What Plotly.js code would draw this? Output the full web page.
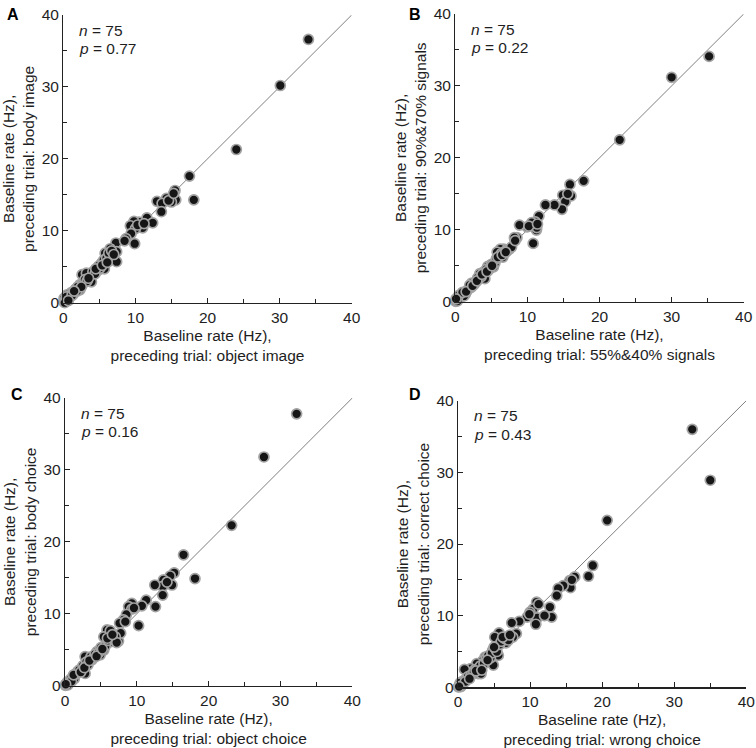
<!DOCTYPE html>
<html>
<head>
<meta charset="utf-8">
<script src="https://cdn.plot.ly/plotly-3.0.1.min.js"></script>
<style>html,body{margin:0;padding:0;background:#fff;}#chart{width:756px;height:748px;}</style>
</head>
<body>
<div id="chart"></div>
<script>
// Panel A: preceding trial object image (x) vs body image (y)
const aX = [34.0,30.1,24.0,17.5,18.1,15.5,15.6,15.0,14.3,13.0,13.7,13.6,11.6,12.4,11.0,10.5,9.8,9.3,10.0,9.4,8.7,9.9,7.3,7.4,7.4,6.5,5.8,6.25,5.3,5.7,4.8,3.6,2.6,3.9,2.3,2.3,3.2,1.1,0.5,0.1,0.1,
  0.3,0.6,0.8,1.4,1.7,2.0,2.7,3.0,3.3,4.1,4.4,4.9,5.1,5.6,6.0,6.3,6.7,7.0,0.2,0.4,1.2,1.9,2.5,3.5,4.5,5.4,6.1,8.5,10.3,11.2,14.6,15.3,0.7,1.5];
const aY = [36.6,30.2,21.3,17.6,14.3,15.6,14.3,14.0,14.5,14.1,13.8,12.65,11.8,11.1,10.4,11.2,11.3,10.7,10.3,9.6,8.9,8.2,8.3,7.1,5.7,7.5,6.9,6.4,5.5,4.7,4.5,3.7,3.9,2.9,2.5,1.8,4.1,1.4,1.1,0.6,0.1,
  0.3,0.5,0.9,1.2,1.9,2.2,2.6,3.2,3.0,4.3,4.0,5.1,4.8,5.9,6.2,6.9,7.2,6.7,0.0,0.8,1.0,1.6,2.2,3.4,4.7,5.2,5.6,8.6,10.8,11.0,14.2,15.2,0.3,1.6];

// Panel B: 55%&40% signals (x) vs 90%&70% signals (y)
const bX = [35.2,30.0,22.8,17.8,15.9,16.05,14.9,15.25,14.8,13.75,12.5,11.6,11.1,11.25,10.6,9.95,8.9,10.8,8.55,8.2,7.5,6.7,6.25,6.6,6.0,5.3,4.5,4.1,3.4,2.3,2.2,1.4,0.45,0.05,11.3,15.6,5.8,4.6,
  0.2,0.7,0.9,1.2,1.7,2.0,2.6,2.9,3.1,3.6,3.9,4.3,4.8,5.0,5.5,5.7,6.2,6.4,6.9,7.2,7.8,0.3,0.5,1.0,1.5,2.4,3.0,3.7,4.4,5.1,5.9,6.5,7.0,8.3,10.2,11.4,0.1];
const bY = [34.1,31.2,22.5,16.8,16.3,14.7,14.8,13.9,12.85,13.45,13.45,11.9,11.1,9.95,11.0,10.4,10.65,8.1,8.9,8.9,7.3,7.3,7.3,6.2,6.8,4.85,4.9,3.2,3.9,2.6,2.0,1.05,0.45,0.05,10.3,15.0,6.9,4.4,
  0.3,0.6,1.1,0.8,1.6,2.3,2.4,2.8,3.3,3.5,4.1,4.5,4.6,5.2,5.4,6.0,6.4,6.7,7.0,7.1,7.6,0.1,0.9,1.3,1.4,2.2,2.9,3.8,4.2,5.0,6.2,6.5,6.9,8.5,10.5,10.8,0.4];

// Panel C: object choice (x) vs body choice (y)
const cX = [32.25,27.7,23.2,16.5,18.1,15.2,14.65,14.9,13.7,13.6,13.6,12.5,12.6,11.3,10.7,10.25,9.3,8.85,9.3,8.55,8.15,7.6,7.25,5.85,5.4,6.55,7.45,6.3,5.4,4.45,3.75,3.3,2.8,2.35,2.8,1.75,1.1,0.37,0.05,7.75,6.3,4.9,
  0.2,0.6,0.8,1.3,1.5,2.0,2.5,3.0,3.2,3.6,4.0,4.2,4.7,5.0,5.6,6.0,6.8,7.0,7.2,0.4,0.9,1.2,2.2,2.7,3.4,4.4,5.2,5.9,6.6,8.4,9.6,14.2,0.1];
const cY = [37.8,31.8,22.3,18.2,14.9,15.7,15.25,14.0,14.7,13.8,12.6,14.0,11.0,11.9,11.1,8.35,11.45,11.0,10.65,9.9,9.15,8.7,7.05,7.75,6.8,6.6,6.2,6.1,4.95,4.75,3.6,3.8,4.05,2.4,1.7,1.95,1.25,0.55,0.05,7.3,7.65,4.3,
  0.3,0.4,0.9,1.0,1.6,2.2,2.8,3.3,2.9,4.0,3.9,4.4,4.6,5.3,5.5,6.3,6.4,6.8,6.0,0.1,0.6,1.5,1.9,2.5,3.5,4.1,5.1,6.6,7.1,8.9,10.8,14.4,0.2];

// Panel D: wrong choice (x) vs correct choice (y)
const dX = [32.5,35.0,20.7,18.7,18.1,16.2,15.5,15.6,14.6,13.9,13.7,12.75,13.0,10.9,10.45,10.0,9.6,11.0,10.8,12.0,8.5,7.45,8.1,7.6,5.7,5.1,6.3,6.65,4.8,5.6,4.9,3.75,3.4,2.6,1.75,0.9,2.35,2.8,1.2,0.5,0.05,3.2,11.2,
  0.2,0.4,0.7,0.9,1.4,1.8,2.2,2.9,3.1,3.6,3.9,4.2,4.5,4.7,5.2,5.4,5.8,6.0,6.5,7.0,0.3,1.0,1.6,2.5,3.3,4.1,5.0,6.2,7.2,9.9,15.8,0.15];
const dY = [36.0,28.9,23.3,17.0,15.5,15.4,14.9,13.9,14.2,13.8,12.8,11.2,9.8,11.9,10.95,10.5,9.8,9.7,8.8,10.0,9.2,9.0,7.5,7.0,7.6,7.0,6.55,6.2,5.15,4.45,3.1,4.2,3.65,3.3,2.6,2.5,2.45,1.9,1.2,0.75,0.05,1.9,11.6,
  0.3,0.1,0.5,1.0,1.5,1.7,2.1,2.7,3.0,3.3,4.0,4.4,4.1,4.8,5.4,5.0,6.0,6.4,6.8,6.6,0.6,0.8,1.2,2.3,2.4,3.8,5.6,7.0,7.3,10.2,15.0,0.1];

const unity = [0, 40];
const tickVals = [0, 10, 20, 30, 40];
const panelLetters = ['A', 'B', 'C', 'D'];
const nLabels = ['<i>n</i> = 75', '<i>n</i> = 75', '<i>n</i> = 75', '<i>n</i> = 75'];
const pLabels = ['<i>p</i> = 0.77', '<i>p</i> = 0.22', '<i>p</i> = 0.16', '<i>p</i> = 0.43'];
const xTitles = ['Baseline rate (Hz),<br>preceding trial: object image',
                 'Baseline rate (Hz),<br>preceding trial: 55%&40% signals',
                 'Baseline rate (Hz),<br>preceding trial: object choice',
                 'Baseline rate (Hz),<br>preceding trial: wrong choice'];
const yTitles = ['Baseline rate (Hz),<br>preceding trial: body image',
                 'Baseline rate (Hz),<br>preceding trial: 90%&70% signals',
                 'Baseline rate (Hz),<br>preceding trial: body choice',
                 'Baseline rate (Hz),<br>preceding trial: correct choice'];

const W = 756, H = 748;
// pixel boxes [left, right, top, bottom]
const boxes = [[63.3, 351.7, 15, 302.7], [455.3, 743.7, 14, 301.7], [65, 352.3, 398, 685.7], [458, 746.3, 400.7, 687.3]];
const letterPos = [[13, 15], [414.5, 15], [17, 394], [414.5, 394]];

const FONT = '"Liberation Sans", Arial, Helvetica, sans-serif';
const TXT = '#1e1e1e';
const data = [];
const layout = {
  width: W, height: H,
  margin: {l: 0, r: 0, t: 0, b: 0},
  paper_bgcolor: '#ffffff', plot_bgcolor: '#ffffff',
  showlegend: false,
  font: {family: FONT, size: 15, color: TXT},
  annotations: []
};
const xs = [aX, bX, cX, dX], ys = [aY, bY, cY, dY];

for (let i = 0; i < 4; i++) {
  const sfx = i === 0 ? '' : String(i + 1);
  const xa = 'x' + sfx, ya = 'y' + sfx;
  data.push({x: unity, y: unity, xaxis: xa, yaxis: ya, type: 'scatter', mode: 'lines',
    line: {color: '#707070', width: 0.9}, hoverinfo: 'skip', cliponaxis: false});
  data.push({x: xs[i], y: ys[i], xaxis: xa, yaxis: ya, type: 'scatter', mode: 'markers',
    cliponaxis: false,
    marker: {size: 10, color: '#161616', line: {color: '#a4a4a4', width: 1.7}}});
  const b = boxes[i];
  const axCommon = {
    range: [0, 40], tickvals: tickVals, ticks: 'inside', ticklen: 5, tickwidth: 1, tickcolor: '#222',
    showline: true, linecolor: '#222', linewidth: 1.2, showgrid: false, zeroline: false,
    tickfont: {family: FONT, size: 15.5, color: TXT},
    minor: {dtick: 5, tick0: 0, ticks: 'inside', ticklen: 4, tickcolor: '#222', showgrid: false},
    fixedrange: true
  };
  layout['xaxis' + sfx] = Object.assign({}, axCommon, {
    domain: [b[0] / W, b[1] / W], anchor: ya,
    title: {text: xTitles[i], font: {family: FONT, size: 15.5, color: TXT}, standoff: 5}
  });
  layout['yaxis' + sfx] = Object.assign({}, axCommon, {
    domain: [1 - b[3] / H, 1 - b[2] / H], anchor: xa,
    title: {text: yTitles[i], font: {family: FONT, size: 15.5, color: TXT}, standoff: 3}
  });
  layout.annotations.push({xref: xa, yref: ya, x: 1.9, y: 37.9, text: nLabels[i], showarrow: false,
    xanchor: 'left', yanchor: 'middle', font: {family: FONT, size: 15.5, color: TXT}});
  layout.annotations.push({xref: xa, yref: ya, x: 1.9, y: 35.3, text: pLabels[i], showarrow: false,
    xanchor: 'left', yanchor: 'middle', font: {family: FONT, size: 15.5, color: TXT}});
  layout.annotations.push({xref: 'paper', yref: 'paper', x: letterPos[i][0] / W, y: 1 - letterPos[i][1] / H,
    text: '<b>' + panelLetters[i] + '</b>', showarrow: false, xanchor: 'center', yanchor: 'middle',
    font: {family: FONT, size: 16, color: '#000'}});
}

Plotly.newPlot('chart', data, layout, {displayModeBar: false, staticPlot: true});
</script>
</body>
</html>
